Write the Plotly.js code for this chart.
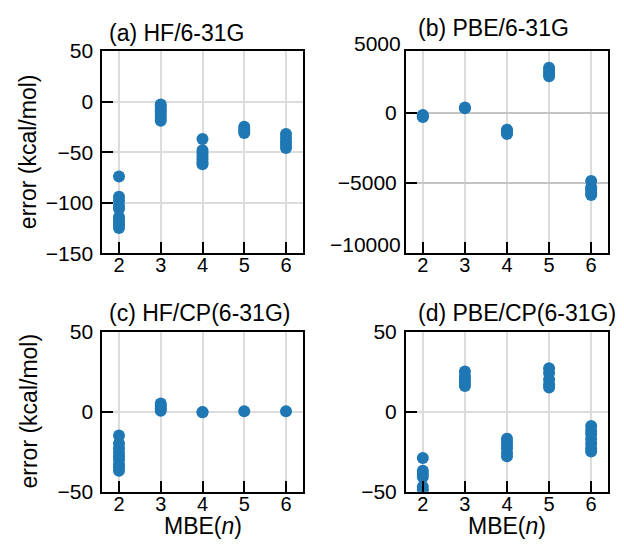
<!DOCTYPE html>
<html>
<head>
<meta charset="utf-8">
<script src="https://cdn.plot.ly/plotly-3.0.1.min.js"></script>
<style>html,body{margin:0;padding:0;background:#fff;}</style>
</head>
<body>
<div id="chart" style="width:624px;height:548px;"></div>
<script>
// ---- data ----
const mbeOrders = [2, 3, 4, 5, 6];
const tickLabelsX = ["2", "3", "4", "5", "6"];

// (a) HF/6-31G errors (kcal/mol), per MBE order
const hfA_2 = [-74, -94, -98, -103, -106, -114, -117, -120, -122, -125];
const hfA_3 = [-3, -5, -8, -10, -13, -16, -19];
const hfA_4 = [-37, -48, -51, -54, -57, -60, -62];
const hfA_5 = [-25, -27, -29, -31];
const hfA_6 = [-32, -36, -40, -43, -46];

// (b) PBE/6-31G
const pbeB_2 = [-150, -250, -300];
const pbeB_3 = [330, 380];
const pbeB_4 = [-1200, -1300, -1400, -1500];
const pbeB_5 = [3200, 3000, 2800, 2600];
const pbeB_6 = [-4850, -5300, -5500, -5700, -5850];

// (c) HF/CP(6-31G)
const hfC_2 = [-15, -20, -23, -26, -28, -30, -33, -35, -37];
const hfC_3 = [0.5, 2, 3.5, 5];
const hfC_4 = [-0.5, -0.3];
const hfC_5 = [0.1];
const hfC_6 = [0.2];

// (d) PBE/CP(6-31G)
const pbeD_2 = [-29, -37, -39, -41, -47, -49, -50.5];
const pbeD_3 = [25, 22, 20, 18, 16];
const pbeD_4 = [-17, -19, -21, -23, -26, -28];
const pbeD_5 = [27, 24, 20, 17, 15];
const pbeD_6 = [-9, -12, -14, -17, -20, -23, -25];

const panelTitles = ["(a) HF/6-31G", "(b) PBE/6-31G", "(c) HF/CP(6-31G)", "(d) PBE/CP(6-31G)"];
const yLabel = "error (kcal/mol)";
const xLabel = "MBE(<i>n</i>)";
const pbeOuterTicks = [5000, -10000];
const pbeOuterLabels = ["5000", "\u221210000"];

// ---- build ----
function flatten(groups) {
  const xs = [], ys = [];
  groups.forEach((g, i) => g.forEach(v => { xs.push(mbeOrders[i]); ys.push(v); }));
  return {xs, ys};
}
const panels = [
  [hfA_2, hfA_3, hfA_4, hfA_5, hfA_6],
  [pbeB_2, pbeB_3, pbeB_4, pbeB_5, pbeB_6],
  [hfC_2, hfC_3, hfC_4, hfC_5, hfC_6],
  [pbeD_2, pbeD_3, pbeD_4, pbeD_5, pbeD_6]
];
const blue = "#1f77b4";
const traces = panels.map((p, i) => {
  const f = flatten(p);
  return {
    type: "scatter", mode: "markers", x: f.xs, y: f.ys,
    xaxis: "x" + (i ? i + 1 : ""), yaxis: "y" + (i ? i + 1 : ""),
    marker: {color: blue, size: 12}, showlegend: false, hoverinfo: "x+y"
  };
});

const FONT = "Liberation Sans, Arial, Helvetica, sans-serif";
const tickFont = {family: FONT, size: 21, color: "#000"};
const xTickFont = {family: FONT, size: 20, color: "#000"};
function xax(dom, anchor) {
  return {
    domain: dom, anchor: anchor, range: [1.6, 6.4],
    tickmode: "array", tickvals: mbeOrders, ticktext: tickLabelsX,
    ticks: "inside", ticklen: 11, tickwidth: 2, tickcolor: "#000",
    showline: true, linewidth: 2, linecolor: "#000", mirror: true,
    showgrid: true, gridcolor: "#dcdcdc", gridwidth: 2, zeroline: false,
    tickfont: xTickFont, ticklabelstandoff: -7
  };
}
function yax(dom, anchor, range, tv, gc) {
  return {
    domain: dom, anchor: anchor, range: range,
    tickmode: "array", tickvals: tv,
    ticks: "inside", ticklen: 11, tickwidth: 2, tickcolor: "#000",
    showline: true, linewidth: 2, linecolor: "#000", mirror: true,
    showgrid: true, gridcolor: gc || "#dcdcdc", gridwidth: 2, zeroline: false,
    tickfont: tickFont, ticklabelstandoff: 3
  };
}
const xL = [102.3 / 624, 302.7 / 624], xR = [406 / 624, 608 / 624];
const yT = [1 - 253.3 / 548, 1 - 51 / 548], yB = [1 - 491.5 / 548, 1 - 331.5 / 548];

const titleFont = {family: FONT, size: 23, color: "#000"};
const annotations = [];
const tpos = [[0.025, 1.089], [0.05, 1.114], [0.022, 1.116], [0.05, 1.116]];
panelTitles.forEach((t, i) => {
  const s = i ? i + 1 : "";
  annotations.push({text: t, xref: "x" + s + " domain", yref: "y" + s + " domain",
    x: tpos[i][0], y: tpos[i][1], xanchor: "left", yanchor: "middle", showarrow: false, font: titleFont});
});
// y labels
[["y", yT], ["y3", yB]].forEach(([ya, dom]) => {
  annotations.push({text: yLabel, xref: "paper", yref: ya + " domain", x: 28 / 624, y: 0.5,
    xanchor: "center", yanchor: "middle", textangle: -90, showarrow: false, font: titleFont});
});
// x labels
[["x3", "y3"], ["x4", "y4"]].forEach(([xa, ya]) => {
  annotations.push({text: xLabel, xref: xa + " domain", yref: ya + " domain", x: 0.5, y: -34 / 160,
    xanchor: "center", yanchor: "middle", showarrow: false, font: titleFont});
});
// panel (b) outer tick labels drawn at the frame edges in the original
const outerY = [1 + 8 / 202.3, 9 / 202.3];
pbeOuterLabels.forEach((t, i) => {
  annotations.push({text: t, xref: "x2 domain", yref: "y2 domain", x: -0.015, y: outerY[i],
    xanchor: "right", yanchor: "middle", showarrow: false, font: tickFont});
});

const layout = {
  width: 624, height: 548,
  margin: {l: 0, r: 0, t: 0, b: 0},
  paper_bgcolor: "#fff", plot_bgcolor: "#fff",
  font: {family: FONT, color: "#000"},
  showlegend: false,
  xaxis: xax(xL, "y"), yaxis: yax(yT, "x", [-150, 50], [-150, -100, -50, 0, 50]),
  xaxis2: xax(xR, "y2"), yaxis2: yax(yT, "x2", [-10000, 4400], [-5000, 0], "#c4c4c4"),
  xaxis3: xax(xL, "y3"), yaxis3: yax(yB, "x3", [-50, 50], [-50, 0, 50]),
  xaxis4: xax(xR, "y4"), yaxis4: yax(yB, "x4", [-50, 50], [-50, 0, 50]),
  annotations: annotations
};
Plotly.newPlot("chart", traces, layout, {staticPlot: true, displayModeBar: false});
</script>
</body>
</html>
